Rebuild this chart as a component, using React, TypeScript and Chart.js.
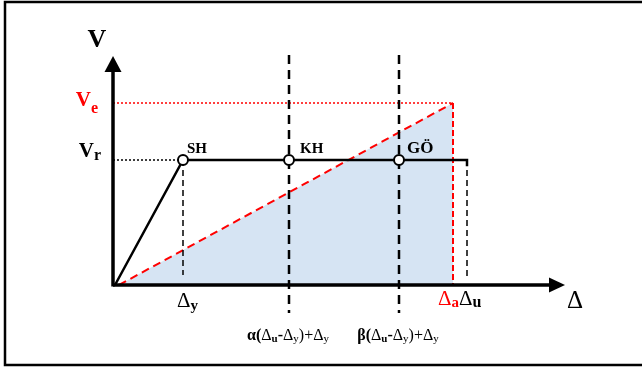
import { useEffect, useRef } from "react";
import { Chart, registerables } from "chart.js";

Chart.register(...registerables);

const FONT = '"Liberation Serif", "Times New Roman", serif';

// Displacement positions (abstract units): Δy, α-level, β-level, Δa, Δu
const dispLabels = ["Δy", "α", "β", "Δa", "Δu"];
const dispValues = [7.0, 17.6, 28.6, 34.0, 35.4];
// Force levels: Vr, Ve
const forceLabels = ["Vr", "Ve"];
const forceValues = [1.0, 1.456];
// Performance points on the capacity curve
const perfLabels = ["SH", "KH", "GÖ"];
const perfX = [7.0, 17.6, 28.6];
// Capacity (bilinear) curve
const capX = [0.2, 7.0, 35.4, 35.4];
const capY = [0, 1.0, 1.0, 0.95];
// Elastic demand line start
const elasticStartX = [0.6];
// Axis extents
const axisXEnd = [45.2];
const axisYEnd = [1.832];
// Dashed guide extents
const guideTop = [1.84];
const guideBottom = [-0.224];
const shortGuideBottom = [0.08, 0.064];

const X_MIN = -11.3;
const X_MAX = 52.9;
const Y_MIN = -0.672;
const Y_MAX = 2.28;

type Run = { t: string; size: number; bold?: boolean; color?: string; dy?: number };

function drawRuns(ctx: CanvasRenderingContext2D, runs: Run[], x: number, y: number, align: "left" | "center" | "right") {
  const widths = runs.map((r) => {
    ctx.font = `${r.bold ? "bold " : ""}${r.size}px ${FONT}`;
    return ctx.measureText(r.t).width;
  });
  const total = widths.reduce((a, b) => a + b, 0);
  let cx = align === "left" ? x : align === "center" ? x - total / 2 : x - total;
  runs.forEach((r, i) => {
    ctx.font = `${r.bold ? "bold " : ""}${r.size}px ${FONT}`;
    ctx.fillStyle = r.color || "#000";
    ctx.textAlign = "left";
    ctx.textBaseline = "alphabetic";
    ctx.fillText(r.t, cx, y + (r.dy || 0));
    cx += widths[i];
  });
}

const annotPlugin = {
  id: "annot",
  beforeDraw(chart: any) {
    const ctx = chart.ctx as CanvasRenderingContext2D;
    ctx.save();
    ctx.fillStyle = "#fff";
    ctx.fillRect(0, 0, chart.width, chart.height);
    ctx.strokeStyle = "#000";
    ctx.lineWidth = 2.5;
    ctx.beginPath();
    ctx.moveTo(chart.width + 2, 2);
    ctx.lineTo(5, 2);
    ctx.lineTo(5, chart.height - 4);
    ctx.lineTo(chart.width + 2, chart.height - 4);
    ctx.stroke();
    ctx.restore();
  },
  afterDatasetsDraw(chart: any) {
    const ctx = chart.ctx as CanvasRenderingContext2D;
    const xs = chart.scales.x;
    const ys = chart.scales.y;
    const px = (v: number) => xs.getPixelForValue(v);
    const py = (v: number) => ys.getPixelForValue(v);
    ctx.save();
    // arrowheads
    ctx.fillStyle = "#000";
    const ox = px(0);
    const oy = py(0);
    const tipY = py(axisYEnd[0]);
    ctx.beginPath();
    ctx.moveTo(ox, tipY);
    ctx.lineTo(ox - 8.5, tipY + 16);
    ctx.lineTo(ox + 8.5, tipY + 16);
    ctx.closePath();
    ctx.fill();
    const tipX = px(axisXEnd[0]);
    ctx.beginPath();
    ctx.moveTo(tipX, oy);
    ctx.lineTo(tipX - 16, oy - 7.5);
    ctx.lineTo(tipX - 16, oy + 7.5);
    ctx.closePath();
    ctx.fill();

    // Axis titles
    drawRuns(ctx, [{ t: "V", size: 26, bold: true }], ox - 16, tipY - 9, "center");
    drawRuns(ctx, [{ t: "Δ", size: 25 }], tipX + 2, oy + 23, "left");

    // Force labels
    const yVr = py(forceValues[0]);
    const yVe = py(forceValues[1]);
    drawRuns(ctx, [
      { t: "V", size: 21, bold: true, color: "#ff0000" },
      { t: "e", size: 16, bold: true, color: "#ff0000", dy: 7 },
    ], ox - 15, yVe + 3, "right");
    drawRuns(ctx, [
      { t: "V", size: 21, bold: true },
      { t: "r", size: 16, bold: true, dy: 3 },
    ], ox - 12, yVr - 3, "right");

    // Performance point labels
    const perfOffsets = [4, 11, 8];
    perfLabels.forEach((lab, i) => {
      drawRuns(ctx, [{ t: lab, size: lab === "GÖ" ? 17 : 15, bold: true }], px(perfX[i]) + perfOffsets[i], yVr - 7, "left");
    });

    // Displacement labels
    const bx = oy + 22;
    drawRuns(ctx, [
      { t: "Δ", size: 21 },
      { t: "y", size: 15, bold: true, dy: 3 },
    ], px(dispValues[0]) - 6, bx, "left");
    drawRuns(ctx, [
      { t: "Δ", size: 21, color: "#ff0000" },
      { t: "a", size: 15, bold: true, color: "#ff0000", dy: 2 },
    ], px(dispValues[3]) + 6, bx - 2, "right");
    drawRuns(ctx, [
      { t: "Δ", size: 21 },
      { t: "u", size: 16, bold: true, dy: 2 },
    ], px(dispValues[4]) - 8, bx - 2, "left");

    const lvl = (g: string): Run[] => [
      { t: g, size: 16, bold: true },
      { t: "(", size: 16, bold: true },
      { t: "Δ", size: 16 },
      { t: "u", size: 11, bold: true, dy: 2 },
      { t: "-", size: 16, bold: true },
      { t: "Δ", size: 16 },
      { t: "y", size: 11, dy: 2 },
      { t: ")", size: 16 },
      { t: "+", size: 16 },
      { t: "Δ", size: 16 },
      { t: "y", size: 11, dy: 2 },
    ];
    drawRuns(ctx, lvl("α"), px(dispValues[1]) - 1, oy + 55, "center");
    drawRuns(ctx, lvl("β"), px(dispValues[2]) - 1, oy + 55, "center");
    ctx.restore();
  },
};

export default function App() {
  const ref = useRef<HTMLCanvasElement | null>(null);

  useEffect(() => {
    if (!ref.current) return;
    const seg = (x1: number, y1: number, x2: number, y2: number) => [
      { x: x1, y: y1 },
      { x: x2, y: y2 },
    ];
    const line = (data: any[], color: string, width: number, dash: number[], order: number, extra: any = {}) => ({
      data,
      showLine: true,
      borderColor: color,
      borderWidth: width,
      borderDash: dash,
      pointRadius: 0,
      fill: false,
      order,
      ...extra,
    });

    const chart = new Chart(ref.current, {
      type: "scatter",
      data: {
        datasets: [
          // elastic demand triangle (fill + red dashed hypotenuse)
          line(seg(elasticStartX[0], 0, dispValues[3], forceValues[1]), "#ff0000", 2, [8, 5], 50, {
            fill: "origin",
            backgroundColor: "rgb(214,228,243)",
          }),
          // red dotted Ve level
          line(seg(0, forceValues[1], dispValues[3], forceValues[1]), "#ff0000", 1.5, [2, 2], 40),
          // red dashed Δa vertical
          line(seg(dispValues[3], forceValues[1], dispValues[3], 0), "#ff0000", 2, [6, 3], 30),
          // black dotted Vr level
          line(seg(0, forceValues[0], dispValues[0], forceValues[0]), "#000", 1.5, [2, 2], 40),
          // Δy dashed guide
          line(seg(dispValues[0], forceValues[0], dispValues[0], shortGuideBottom[0]), "#000", 1.5, [6, 4], 40),
          // Δu dashed guide
          line(seg(dispValues[4], forceValues[0], dispValues[4], shortGuideBottom[1]), "#000", 1.5, [6, 4], 40),
          // α and β guides
          line(seg(dispValues[1], guideTop[0], dispValues[1], guideBottom[0]), "#000", 2.5, [9, 6], 35),
          line(seg(dispValues[2], guideTop[0], dispValues[2], guideBottom[0]), "#000", 2.5, [9, 6], 35),
          // axes
          line(seg(0, -0.012, 0, axisYEnd[0] - 0.06), "#000", 3.5, [], 20),
          line(seg(0, 0, axisXEnd[0] - 0.75, 0), "#000", 3.5, [], 20),
          // capacity curve
          line(capX.map((x, i) => ({ x, y: capY[i] })), "#000", 2.5, [], 10, { borderJoinStyle: "miter" }),
          // performance points
          {
            data: perfX.map((x) => ({ x, y: forceValues[0] })),
            showLine: false,
            pointRadius: 5,
            pointBorderWidth: 2,
            pointBackgroundColor: "#fff",
            pointBorderColor: "#000",
            order: 1,
          },
        ],
      },
      options: {
        animation: false,
        responsive: false,
        events: [],
        layout: { padding: 0, autoPadding: false },
        plugins: { legend: { display: false }, tooltip: { enabled: false } },
        scales: {
          x: { type: "linear", min: X_MIN, max: X_MAX, display: false },
          y: { type: "linear", min: Y_MIN, max: Y_MAX, display: false },
        },
      },
      plugins: [annotPlugin],
    });
    return () => chart.destroy();
  }, []);

  return (
    <div style={{ position: "absolute", left: 0, top: 0, width: 642, height: 369 }}>
      <canvas ref={ref} width={642} height={369} style={{ display: "block" }} />
    </div>
  );
}
